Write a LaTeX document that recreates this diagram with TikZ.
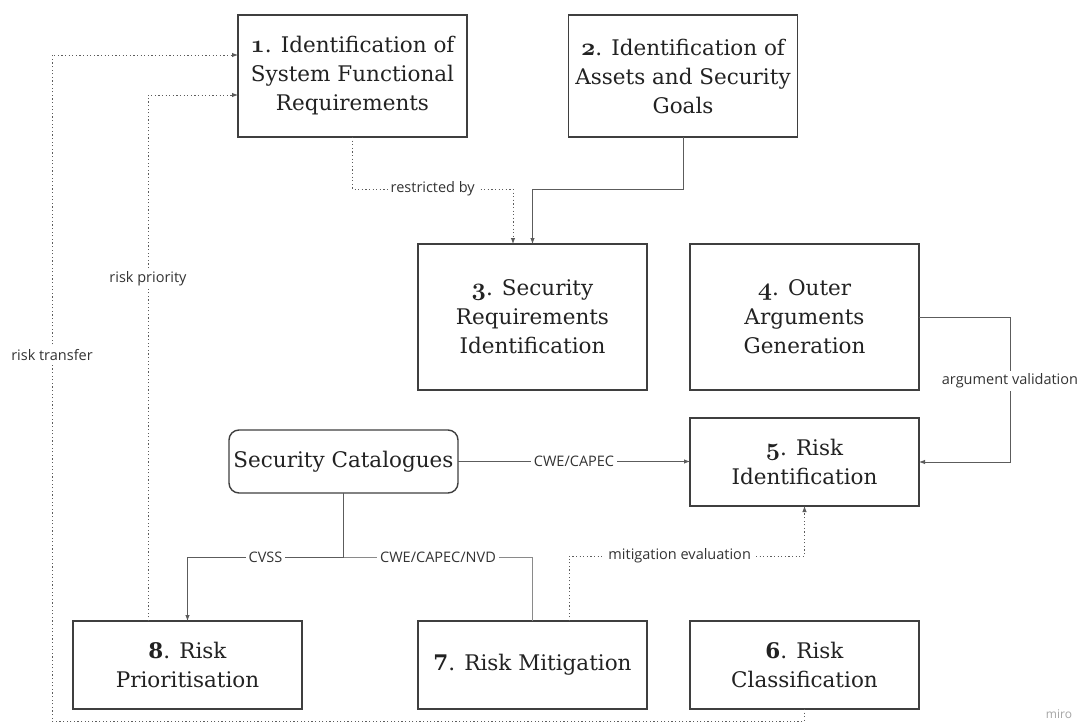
\documentclass[tikz,border=0pt]{standalone}
\usepackage{fontspec}
\setmainfont{DejaVu Serif}
\newfontfamily\lblfont{Open Sans}
\usetikzlibrary{arrows.meta,calc}

\definecolor{boxc}{HTML}{3F3F3F}
\definecolor{linec}{HTML}{5C5C5C}
\definecolor{lightlinec}{HTML}{8A8A8A}
\definecolor{txt}{HTML}{222222}
\definecolor{lbltxt}{HTML}{333333}

% bold old-style figure for the step numbers
\newcommand{\stepnum}[1]{{\fontsize{26}{29}\usefont{OML}{cmm}{b}{it}#1}}

\tikzset{
  stagebox/.style={draw=boxc, line width=1.4pt, minimum width=229pt,
    inner sep=0pt, outer sep=0pt, align=center, text=txt,
    font=\fontsize{21.5}{29}\selectfont},
  catbox/.style={stagebox, rounded corners=10pt, minimum height=63pt},
  conn/.style={draw=linec, line width=0.9pt},
  lightconn/.style={draw=lightlinec, line width=0.8pt},
  dotconn/.style={draw=linec, line width=0.9pt, dash pattern=on 1.2pt off 2.4pt},
  tip/.style={-{Latex[length=6pt,width=4.5pt]}},
  lbl/.style={fill=white, inner sep=3pt, text=lbltxt,
    font=\lblfont\fontsize{14.5}{16}\selectfont}
}

\begin{document}
\begin{tikzpicture}[x=1pt,y=-1pt]
\useasboundingbox (0,0) rectangle (1079,725);
\fill[white] (0,0) rectangle (1079,725);

% process stages
\node[stagebox, minimum height=122pt] (s1) at (352.5,76)
  {\stepnum{1}. Identification of\\System Functional\\Requirements};
\node[stagebox, minimum height=122pt] (s2) at (683,76)
  {\stepnum{2}. Identification of\\Assets and Security\\Goals};
\node[stagebox, minimum height=146pt] (s3) at (532.5,317)
  {\stepnum{3}. Security\\Requirements\\Identification};
\node[stagebox, minimum height=146pt] (s4) at (804.5,317)
  {\stepnum{4}. Outer\\Arguments\\Generation};
\node[stagebox, minimum height=88pt] (s5) at (804.5,462)
  {\stepnum{5}. Risk\\Identification};
\node[catbox] (cat) at (343.5,461.5) {Security Catalogues};
\node[stagebox, minimum height=88pt] (s8) at (187.5,665)
  {\textbf{8}. Risk\\Prioritisation};
\node[stagebox, minimum height=88pt] (s7) at (532.5,665)
  {\textbf{7}. Risk Mitigation};
\node[stagebox, minimum height=88pt] (s6) at (804.5,665)
  {\textbf{6}. Risk\\Classification};

% requirements feed the security requirements
\draw[dotconn, tip] (s1.south) -- ++(0,52)
  -| node[lbl, pos=0.25] {restricted by} ($(s3.north)+(-19.5,0)$);
\draw[conn, tip] (s2.south) -- ++(0,52) -| (s3.north);

% argument validation loop
\draw[conn, tip] (s4.east) -- ++(91,0)
  |- node[lbl, pos=0.22] {argument validation} (s5.east);

% catalogue inputs
\draw[conn, tip] (cat.east) -- node[lbl] {CWE/CAPEC} (cat.east -| s5.west);
\coordinate (split) at ($(cat.south)+(0,64)$);
\draw[conn] (cat.south) -- (split);
\draw[conn, tip] (split) -| node[lbl, pos=0.25] {CVSS} (s8.north);
\draw[lightconn] (split) -| node[lbl, pos=0.25] {CWE/CAPEC/NVD} (s7.north);

% mitigation feeds back into identification
\draw[dotconn, tip] ($(s7.north)+(36.5,0)$) -- ++(0,-65)
  -| node[lbl, pos=0.235] {mitigation evaluation} (s5.south);

% risk priority back to the functional requirements
\draw[dotconn, tip] ($(s8.north)+(-39.5,0)$)
  |- node[lbl, pos=0.325] {risk priority} ($(s1.west)+(0,19)$);

% risk transfer loop round the whole process
\coordinate (rtlow) at (52,721);
\coordinate (rthigh) at (52,55);
\draw[dotconn, tip] (s6.south) |- (rtlow)
  -- node[lbl, pos=0.55] {risk transfer} (rthigh)
  -- (rthigh -| s1.west);

\node[text=black!35, font=\lblfont\fontsize{12}{14}\selectfont] (mark) at (1059,714) {miro};
\end{tikzpicture}
\end{document}
